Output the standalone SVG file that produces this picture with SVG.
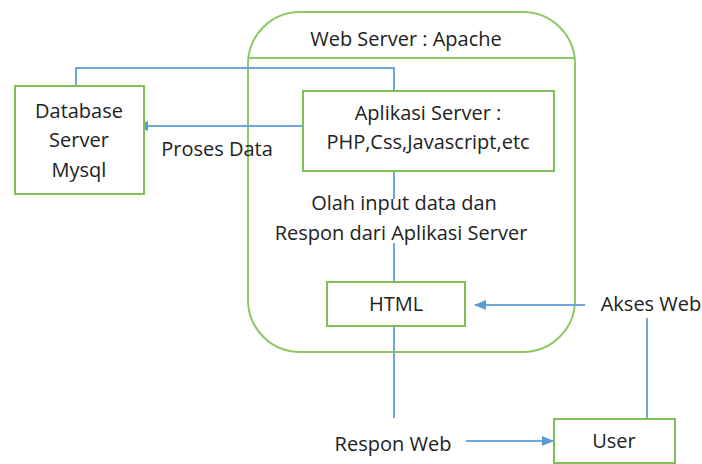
<svg xmlns="http://www.w3.org/2000/svg" width="702" height="464" viewBox="0 0 702 464">
<defs>
<style>
.box{fill:#fff;stroke:#7fbf57;stroke-width:2}
.frame{fill:none;stroke:#8cc865;stroke-width:2}
.ln{fill:none;stroke:#6fa6dc;stroke-width:2}
text{font-family:"Open Sans","Noto Sans",sans-serif;font-size:20px;fill:#222;text-anchor:middle;dominant-baseline:central}
</style>
<marker id="ah" viewBox="0 0 12 10" refX="11" refY="5" markerWidth="12" markerHeight="10" markerUnits="userSpaceOnUse" orient="auto">
<path d="M0,0 L12,5 L0,10 z" fill="#5b9bd5"/>
</marker>
</defs>
<rect width="702" height="464" fill="#fff"/>
<g id="webserver">
<rect class="frame" x="248" y="12" width="327" height="340" rx="52" ry="52"/>
<line class="frame" x1="248" y1="58" x2="575" y2="58"/>
<text x="406" y="38">Web Server : Apache</text>
</g>
<g id="connectors">
<polyline class="ln" points="76,86 76,68 394,68 394,91"/>
<line class="ln" x1="303" y1="126" x2="137" y2="126" marker-end="url(#ah)"/>
<line class="ln" x1="394" y1="171" x2="394" y2="199"/>
<line class="ln" x1="394" y1="243" x2="394" y2="282"/>
<line class="ln" x1="585" y1="305" x2="475" y2="305" marker-end="url(#ah)"/>
<line class="ln" x1="647" y1="318" x2="647" y2="420"/>
<line class="ln" x1="394" y1="326" x2="394" y2="418"/>
<line class="ln" x1="466" y1="441" x2="553" y2="441" marker-end="url(#ah)"/>
</g>
<g id="database">
<rect class="box" x="15" y="86" width="129" height="108"/>
<text x="79" y="110">Database</text>
<text x="79" y="139">Server</text>
<text x="79" y="169">Mysql</text>
</g>
<g id="aplikasi">
<rect class="box" x="303" y="91" width="251" height="80"/>
<text x="428" y="112">Aplikasi Server :</text>
<text x="428" y="141">PHP,Css,Javascript,etc</text>
</g>
<g id="html">
<rect class="box" x="327" y="282" width="138" height="44"/>
<text x="396" y="303">HTML</text>
</g>
<g id="user">
<rect class="box" x="554" y="419" width="121" height="44"/>
<text x="614" y="440">User</text>
</g>
<g id="labels">
<text x="217" y="148">Proses Data</text>
<text x="404" y="202">Olah input data dan</text>
<text x="401" y="232">Respon dari Aplikasi Server</text>
<text x="651" y="303">Akses Web</text>
<text x="393" y="443">Respon Web</text>
</g>
</svg>
